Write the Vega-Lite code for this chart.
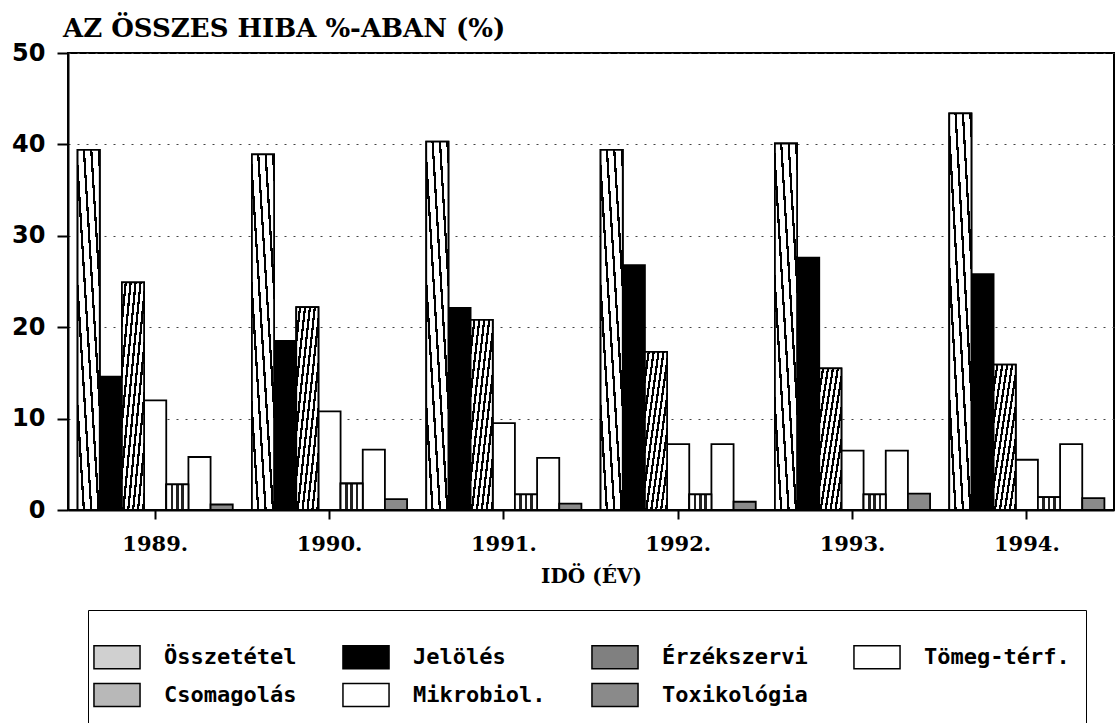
{
  "$schema": "https://vega.github.io/schema/vega-lite/v6.json",
  "width": 1046,
  "height": 457,
  "autosize": "none",
  "padding": {"left": 68, "top": 53, "right": 4, "bottom": 213},
  "background": "white",
  "title": {"text": "AZ ÖSSZES HIBA %-ABAN (%)", "anchor": "start", "frame": "group", "font": "DejaVu Serif", "fontSize": 26, "fontWeight": "bold", "color": "black", "offset": 5, "dx": -5, "dy": 6},
  "data": {"values": [
    {"ev": "1989.", "k": "Összetétel", "v": 39.4},
    {"ev": "1989.", "k": "Jelölés", "v": 14.6},
    {"ev": "1989.", "k": "Érzékszervi", "v": 24.9},
    {"ev": "1989.", "k": "Tömeg-térf.", "v": 12.0},
    {"ev": "1989.", "k": "Csomagolás", "v": 2.8},
    {"ev": "1989.", "k": "Mikrobiol.", "v": 5.8},
    {"ev": "1989.", "k": "Toxikológia", "v": 0.6},
    {"ev": "1990.", "k": "Összetétel", "v": 38.9},
    {"ev": "1990.", "k": "Jelölés", "v": 18.5},
    {"ev": "1990.", "k": "Érzékszervi", "v": 22.2},
    {"ev": "1990.", "k": "Tömeg-térf.", "v": 10.8},
    {"ev": "1990.", "k": "Csomagolás", "v": 2.9},
    {"ev": "1990.", "k": "Mikrobiol.", "v": 6.6},
    {"ev": "1990.", "k": "Toxikológia", "v": 1.2},
    {"ev": "1991.", "k": "Összetétel", "v": 40.3},
    {"ev": "1991.", "k": "Jelölés", "v": 22.1},
    {"ev": "1991.", "k": "Érzékszervi", "v": 20.8},
    {"ev": "1991.", "k": "Tömeg-térf.", "v": 9.5},
    {"ev": "1991.", "k": "Csomagolás", "v": 1.7},
    {"ev": "1991.", "k": "Mikrobiol.", "v": 5.7},
    {"ev": "1991.", "k": "Toxikológia", "v": 0.7},
    {"ev": "1992.", "k": "Összetétel", "v": 39.4},
    {"ev": "1992.", "k": "Jelölés", "v": 26.8},
    {"ev": "1992.", "k": "Érzékszervi", "v": 17.3},
    {"ev": "1992.", "k": "Tömeg-térf.", "v": 7.2},
    {"ev": "1992.", "k": "Csomagolás", "v": 1.7},
    {"ev": "1992.", "k": "Mikrobiol.", "v": 7.2},
    {"ev": "1992.", "k": "Toxikológia", "v": 0.9},
    {"ev": "1993.", "k": "Összetétel", "v": 40.1},
    {"ev": "1993.", "k": "Jelölés", "v": 27.6},
    {"ev": "1993.", "k": "Érzékszervi", "v": 15.5},
    {"ev": "1993.", "k": "Tömeg-térf.", "v": 6.5},
    {"ev": "1993.", "k": "Csomagolás", "v": 1.7},
    {"ev": "1993.", "k": "Mikrobiol.", "v": 6.5},
    {"ev": "1993.", "k": "Toxikológia", "v": 1.8},
    {"ev": "1994.", "k": "Összetétel", "v": 43.4},
    {"ev": "1994.", "k": "Jelölés", "v": 25.8},
    {"ev": "1994.", "k": "Érzékszervi", "v": 15.9},
    {"ev": "1994.", "k": "Tömeg-térf.", "v": 5.5},
    {"ev": "1994.", "k": "Csomagolás", "v": 1.4},
    {"ev": "1994.", "k": "Mikrobiol.", "v": 7.2},
    {"ev": "1994.", "k": "Toxikológia", "v": 1.3}
  ]},
  "encoding": {
    "x": {
      "field": "ev", "type": "nominal",
      "scale": {"paddingInner": 0.11, "paddingOuter": 0.055},
      "axis": {"title": "IDÖ (ÉV)", "titleFont": "DejaVu Serif", "titleFontSize": 20, "titleFontWeight": "bold", "titleColor": "black", "titlePadding": 12,
               "labelFont": "DejaVu Serif", "labelFontSize": 21, "labelFontWeight": "bold", "labelColor": "black", "labelAngle": 0, "labelPadding": 14,
               "tickSize": 9, "tickWidth": 2, "tickColor": "black", "domainWidth": 2, "domainColor": "black", "grid": false}
    },
    "xOffset": {
      "field": "k", "type": "nominal",
      "scale": {"domain": ["Összetétel", "Jelölés", "Érzékszervi", "Tömeg-térf.", "Csomagolás", "Mikrobiol.", "Toxikológia"], "paddingInner": 0, "paddingOuter": 0}
    },
    "y": {
      "field": "v", "type": "quantitative",
      "scale": {"domain": [0, 50], "nice": false},
      "axis": {"title": null, "values": [0, 10, 20, 30, 40, 50], "grid": true, "gridDash": [2, 7], "gridColor": "#444", "gridWidth": 1,
               "domainColor": "black", "domainWidth": 2, "tickColor": "black", "tickWidth": 2, "tickSize": 11,
               "labelFont": "DejaVu Sans", "labelFontSize": 24, "labelFontWeight": "bold", "labelColor": "black", "labelPadding": 12}
    }
  },
  "layer": [
    {
      "mark": {"type": "bar", "stroke": "black", "strokeWidth": 1.8},
      "encoding": {
        "fill": {
          "field": "k", "type": "nominal",
          "scale": {
            "domain": ["Összetétel", "Jelölés", "Érzékszervi", "Tömeg-térf.", "Csomagolás", "Mikrobiol.", "Toxikológia"],
            "range": ["#d0d0d0", "black", "#808080", "white", "#b8b8b8", "white", "#8a8a8a"]
          },
          "legend": {
            "orient": "none", "legendX": 20, "legendY": 557,
            "columns": 4, "direction": "horizontal",
            "title": " ", "titleFontSize": 14, "titlePadding": 4,
            "symbolType": "M-1.92,-0.96H1.92V0.96H-1.92Z", "symbolSize": 576,
            "labelFont": "DejaVu Sans Mono", "labelFontSize": 22, "labelFontWeight": "bold", "labelColor": "black", "labelOffset": 34, "labelLimit": 300,
            "columnPadding": 42, "rowPadding": 8, "padding": 16,
            "strokeColor": "black",
            "encode": {
              "legend": {"strokeWidth": {"value": 2}},
              "symbols": {
                "stroke": {"value": "black"},
                "strokeWidth": {"value": 1.5},
                "opacity": {"value": 1}
              }
            }
          }
        }
      }
    },
    {
      "transform": [{"filter": "datum.k === 'Összetétel'"}],
      "mark": {"type": "bar", "stroke": "black", "strokeWidth": 1.8, "fill": {"gradient": "linear", "x1": 0, "y1": 1, "x2": 1, "y2": 0, "stops": [
            {"offset": 0, "color": "white"}, {"offset": 0.1167, "color": "white"}, {"offset": 0.1167, "color": "black"}, {"offset": 0.1667, "color": "black"},
            {"offset": 0.1667, "color": "white"}, {"offset": 0.2833, "color": "white"}, {"offset": 0.2833, "color": "black"}, {"offset": 0.3333, "color": "black"},
            {"offset": 0.3333, "color": "white"}, {"offset": 0.45, "color": "white"}, {"offset": 0.45, "color": "black"}, {"offset": 0.5, "color": "black"},
            {"offset": 0.5, "color": "white"}, {"offset": 0.6167, "color": "white"}, {"offset": 0.6167, "color": "black"}, {"offset": 0.6667, "color": "black"},
            {"offset": 0.6667, "color": "white"}, {"offset": 0.7833, "color": "white"}, {"offset": 0.7833, "color": "black"}, {"offset": 0.8333, "color": "black"},
            {"offset": 0.8333, "color": "white"}, {"offset": 0.95, "color": "white"}, {"offset": 0.95, "color": "black"}, {"offset": 1, "color": "black"}
          ]}}
    },
    {
      "transform": [{"filter": "datum.k === 'Érzékszervi'"}],
      "mark": {"type": "bar", "stroke": "black", "strokeWidth": 1.8, "fill": {"gradient": "linear", "x1": 0, "y1": 0, "x2": 1, "y2": 1, "stops": [
            {"offset": 0, "color": "white"}, {"offset": 0.0611, "color": "white"}, {"offset": 0.0611, "color": "black"}, {"offset": 0.1111, "color": "black"},
            {"offset": 0.1111, "color": "white"}, {"offset": 0.1722, "color": "white"}, {"offset": 0.1722, "color": "black"}, {"offset": 0.2222, "color": "black"},
            {"offset": 0.2222, "color": "white"}, {"offset": 0.2833, "color": "white"}, {"offset": 0.2833, "color": "black"}, {"offset": 0.3333, "color": "black"},
            {"offset": 0.3333, "color": "white"}, {"offset": 0.3944, "color": "white"}, {"offset": 0.3944, "color": "black"}, {"offset": 0.4444, "color": "black"},
            {"offset": 0.4444, "color": "white"}, {"offset": 0.5056, "color": "white"}, {"offset": 0.5056, "color": "black"}, {"offset": 0.5556, "color": "black"},
            {"offset": 0.5556, "color": "white"}, {"offset": 0.6167, "color": "white"}, {"offset": 0.6167, "color": "black"}, {"offset": 0.6667, "color": "black"},
            {"offset": 0.6667, "color": "white"}, {"offset": 0.7278, "color": "white"}, {"offset": 0.7278, "color": "black"}, {"offset": 0.7778, "color": "black"},
            {"offset": 0.7778, "color": "white"}, {"offset": 0.8389, "color": "white"}, {"offset": 0.8389, "color": "black"}, {"offset": 0.8889, "color": "black"},
            {"offset": 0.8889, "color": "white"}, {"offset": 0.95, "color": "white"}, {"offset": 0.95, "color": "black"}, {"offset": 1, "color": "black"}
          ]}}
    },
    {
      "transform": [{"filter": "datum.k === 'Csomagolás'"}],
      "mark": {"type": "bar", "stroke": "black", "strokeWidth": 1.8, "fill": {"gradient": "linear", "x1": 0, "y1": 0, "x2": 1, "y2": 0, "stops": [
            {"offset": 0, "color": "white"}, {"offset": 0.2, "color": "white"}, {"offset": 0.2, "color": "#222"}, {"offset": 0.32, "color": "#222"},
            {"offset": 0.32, "color": "white"}, {"offset": 0.44, "color": "white"}, {"offset": 0.44, "color": "#222"}, {"offset": 0.56, "color": "#222"},
            {"offset": 0.56, "color": "white"}, {"offset": 0.68, "color": "white"}, {"offset": 0.68, "color": "#222"}, {"offset": 0.8, "color": "#222"},
            {"offset": 0.8, "color": "white"}, {"offset": 1, "color": "white"}
          ]}}
    }
  ],
  "config": {
    "view": {"stroke": "black", "strokeWidth": 2}
  }
}
